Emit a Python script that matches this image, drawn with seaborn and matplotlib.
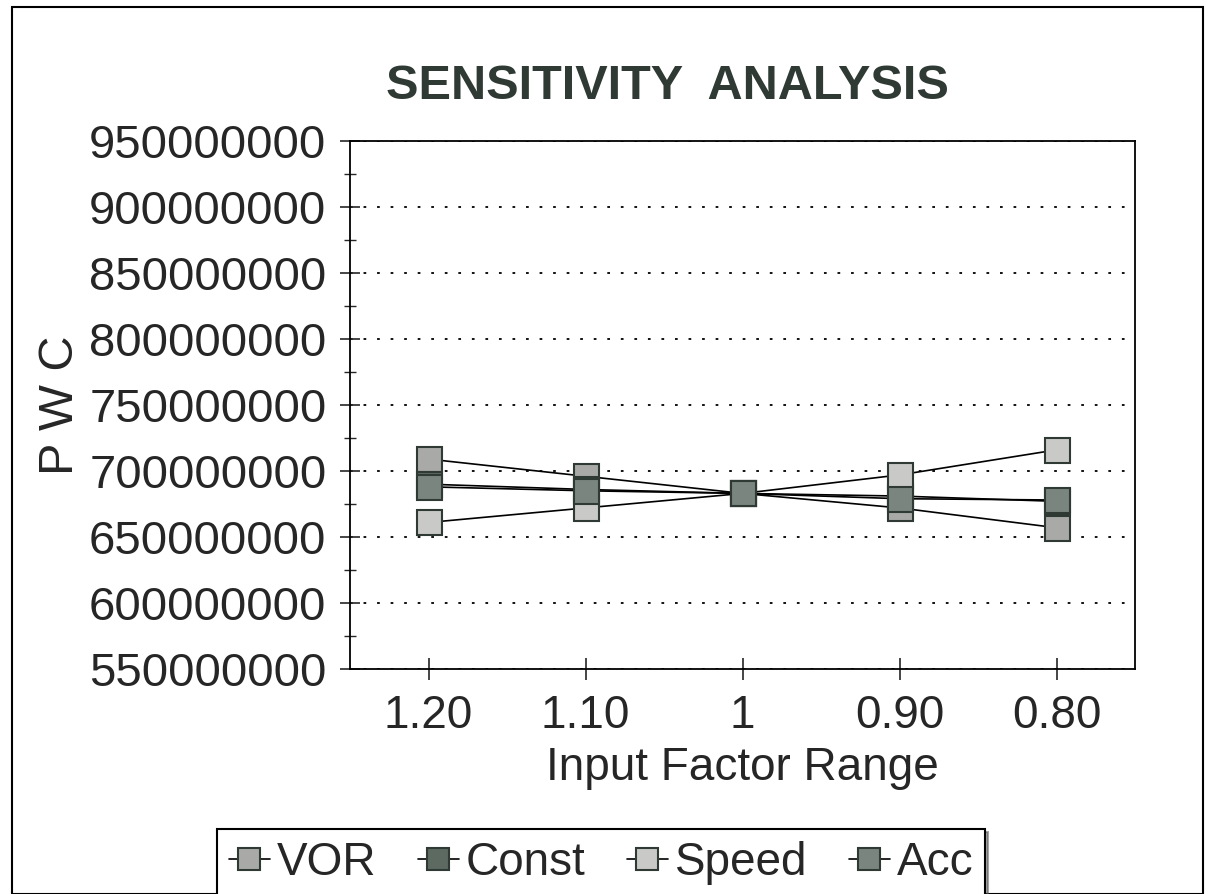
import matplotlib
matplotlib.use("Agg")
import matplotlib.pyplot as plt
import seaborn as sns
import pandas as pd
import numpy as np
from matplotlib.ticker import MultipleLocator, FuncFormatter
from matplotlib.patches import Rectangle

# ---- data ----
x_labels = ["1.20", "1.10", "1", "0.90", "0.80"]
series_names = ["VOR", "Const", "Speed", "Acc"]
vor = [709e6, 696e6, 683e6, 672e6, 657e6]
const = [690e6, 686e6, 683e6, 681e6, 677e6]
speed = [661e6, 672e6, 683e6, 697e6, 716e6]
acc = [688e6, 685e6, 683e6, 679e6, 678e6]
colors = {"VOR": "#a9aaa8", "Const": "#5c6a62", "Speed": "#c9cac8", "Acc": "#7b857f"}

rows = []
for name, vals in zip(series_names, [vor, const, speed, acc]):
    for i, v in enumerate(vals):
        rows.append({"pos": i, "value": v, "series": name})
df = pd.DataFrame(rows)

sns.set_style("white")
plt.rcParams["font.family"] = ["Liberation Sans", "DejaVu Sans"]

fig = plt.figure(figsize=(12.12, 8.94), dpi=100)
ax = fig.add_axes([0.2888, 0.2517, 0.9365 - 0.2888, 0.8423 - 0.2517])

sns.lineplot(data=df, x="pos", y="value", hue="series", hue_order=series_names,
             palette=["black"] * 4, marker="s", markersize=18, dashes=False,
             linewidth=1.2, sort=False, ax=ax, legend=False)

# recolor markers per series
for line, name in zip(ax.get_lines(), series_names):
    line.set_markerfacecolor(colors[name])
    line.set_markeredgecolor("#2f3a34")
    line.set_markeredgewidth(1.5)
    line.set_label(name)

ax.set_xlim(-0.5, 4.5)
ax.set_ylim(550e6, 950e6)
ax.set_xticks(range(len(x_labels)))
ax.set_xticklabels(x_labels)
ax.yaxis.set_major_locator(MultipleLocator(50e6))
ax.yaxis.set_minor_locator(MultipleLocator(25e6))
ax.yaxis.set_major_formatter(FuncFormatter(lambda v, p: f"{int(round(v))}"))
ax.tick_params(axis="y", which="major", direction="inout", length=14, width=1.2,
               labelsize=34, pad=10, left=True)
ax.tick_params(axis="y", which="minor", direction="inout", length=8, width=1.0, left=True)
ax.tick_params(axis="x", which="major", direction="inout", length=16, width=1.2,
               labelsize=33, pad=10, bottom=True)
ax.grid(axis="y", which="major", linestyle=(0, (1.5, 6)), color="black", linewidth=1.3)
for s in ax.spines.values():
    s.set_visible(True)
    s.set_color("black")
    s.set_linewidth(1.3)

ax.set_xlabel("Input Factor Range", fontsize=33, labelpad=6)
ax.set_ylabel("P W C", fontsize=35)
ax.yaxis.set_label_coords(-0.34, 0.5)

fig.text(0.551, 0.903, "SENSITIVITY  ANALYSIS", fontsize=35, fontweight="bold",
         ha="center", va="center", color="#2f3a34")

handles = ax.get_lines()[:4]
leg = fig.legend(handles, series_names, loc="center", bbox_to_anchor=(0.496, 0.035),
                 ncol=4, fontsize=33, frameon=True, fancybox=False, shadow=True,
                 handlelength=0.9, handletextpad=0.15, columnspacing=0.9,
                 borderpad=0.25, markerscale=0.85)
leg.get_frame().set_edgecolor("black")
leg.get_frame().set_linewidth(1.5)

# outer frame
fig.patches.append(Rectangle((12 / 1212, 0), (1203 - 12) / 1212, 1 - 7 / 894,
                             transform=fig.transFigure, fill=False,
                             edgecolor="black", linewidth=1.5))

fig.savefig("out.png", dpi=100)
